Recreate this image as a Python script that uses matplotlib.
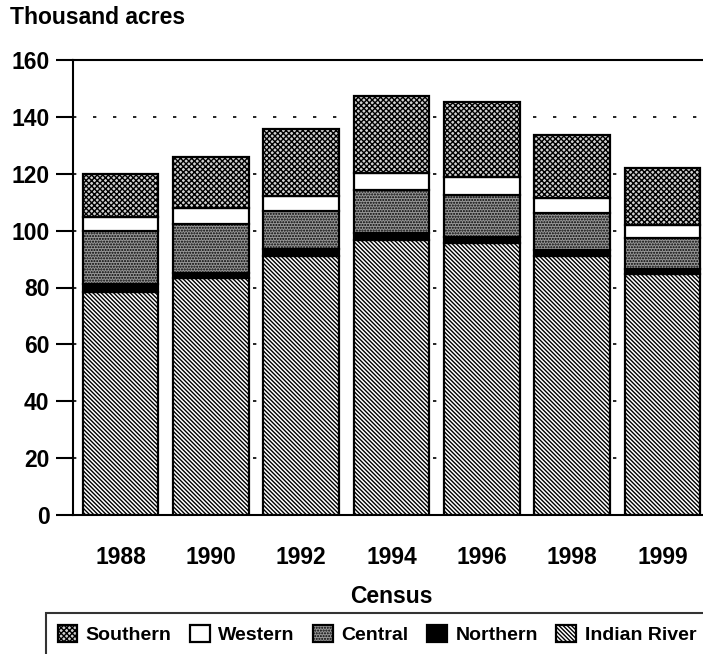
import numpy as np
import matplotlib
matplotlib.use('Agg')
import matplotlib.pyplot as plt

plt.rcParams['font.family'] = ['Liberation Sans', 'DejaVu Sans']
plt.rcParams['font.weight'] = 'bold'
plt.rcParams['hatch.linewidth'] = 1.0

years = ['1988', '1990', '1992', '1994', '1996', '1998', '1999']
indian_river = [78.5, 83.2, 91.2, 96.7, 95.8, 91.1, 84.6]
northern = [2.6, 1.8, 2.2, 2.3, 2.1, 2.1, 1.8]
central = [18.8, 17.2, 13.5, 15.3, 14.6, 13.1, 10.9]
western = [4.8, 5.6, 5.3, 6.1, 6.5, 5.2, 4.7]
southern = [15.2, 18.1, 23.5, 27.0, 26.2, 22.3, 19.9]

# bottom to top
series = [
    ('Indian River', indian_river, dict(facecolor='white', hatch='\\' * 8)),
    ('Northern', northern, dict(facecolor='black')),
    ('Central', central, dict(facecolor='#989898', hatch='......')),
    ('Western', western, dict(facecolor='white')),
    ('Southern', southern, dict(facecolor='#d0d0d0', hatch='xxxxxx')),
]

fig = plt.figure(figsize=(7.03, 6.54), dpi=100)
ax = fig.add_axes([73 / 703, (654 - 515) / 654, (710 - 73) / 703, (515 - 60) / 654])

x = np.arange(len(years))
bottom = np.zeros(len(years))
handles = {}
for name, vals, style in series:
    h = ax.bar(x, vals, width=0.84, bottom=bottom, edgecolor='black',
               linewidth=1.6, zorder=3, **style)
    handles[name] = h
    bottom += np.array(vals)

ax.set_ylim(0, 160)
ax.set_xlim(-0.526, 6.526)
ax.set_yticks(range(0, 161, 20))
ax.set_xticks(x)
ax.set_xticklabels(years)
ax.tick_params(axis='y', length=12, width=1.5, pad=5, labelsize=16.5)
ax.tick_params(axis='x', length=0, pad=22, labelsize=16.5)
for lab in ax.get_xticklabels() + ax.get_yticklabels():
    lab.set_fontweight('bold')

ax.yaxis.grid(True, color='black', linewidth=1.2, linestyle=(0, (2, 10)), zorder=0)
ax.set_axisbelow(True)
for s in ['left', 'top', 'bottom']:
    ax.spines[s].set_linewidth(1.5)
ax.spines['right'].set_visible(False)

ax.set_xlabel('Census', fontsize=16.5, fontweight='bold', labelpad=12)
fig.text(10 / 703, 1 - 18 / 654, 'Thousand acres', fontsize=16.5, fontweight='bold',
         ha='left', va='center')

order = ['Southern', 'Western', 'Central', 'Northern', 'Indian River']
leg = fig.legend([handles[n] for n in order], order, loc='upper left',
                 bbox_to_anchor=(46 / 703, 1 - 613 / 654), ncol=5,
                 fontsize=14, frameon=True, fancybox=False, edgecolor='black',
                 handlelength=1.0, handleheight=1.0, handletextpad=0.45,
                 columnspacing=0.95, borderpad=0.6, borderaxespad=0)
leg.get_frame().set_linewidth(1.5)
for t in leg.get_texts():
    t.set_fontweight('bold')

fig.savefig('out.png', dpi=100)
